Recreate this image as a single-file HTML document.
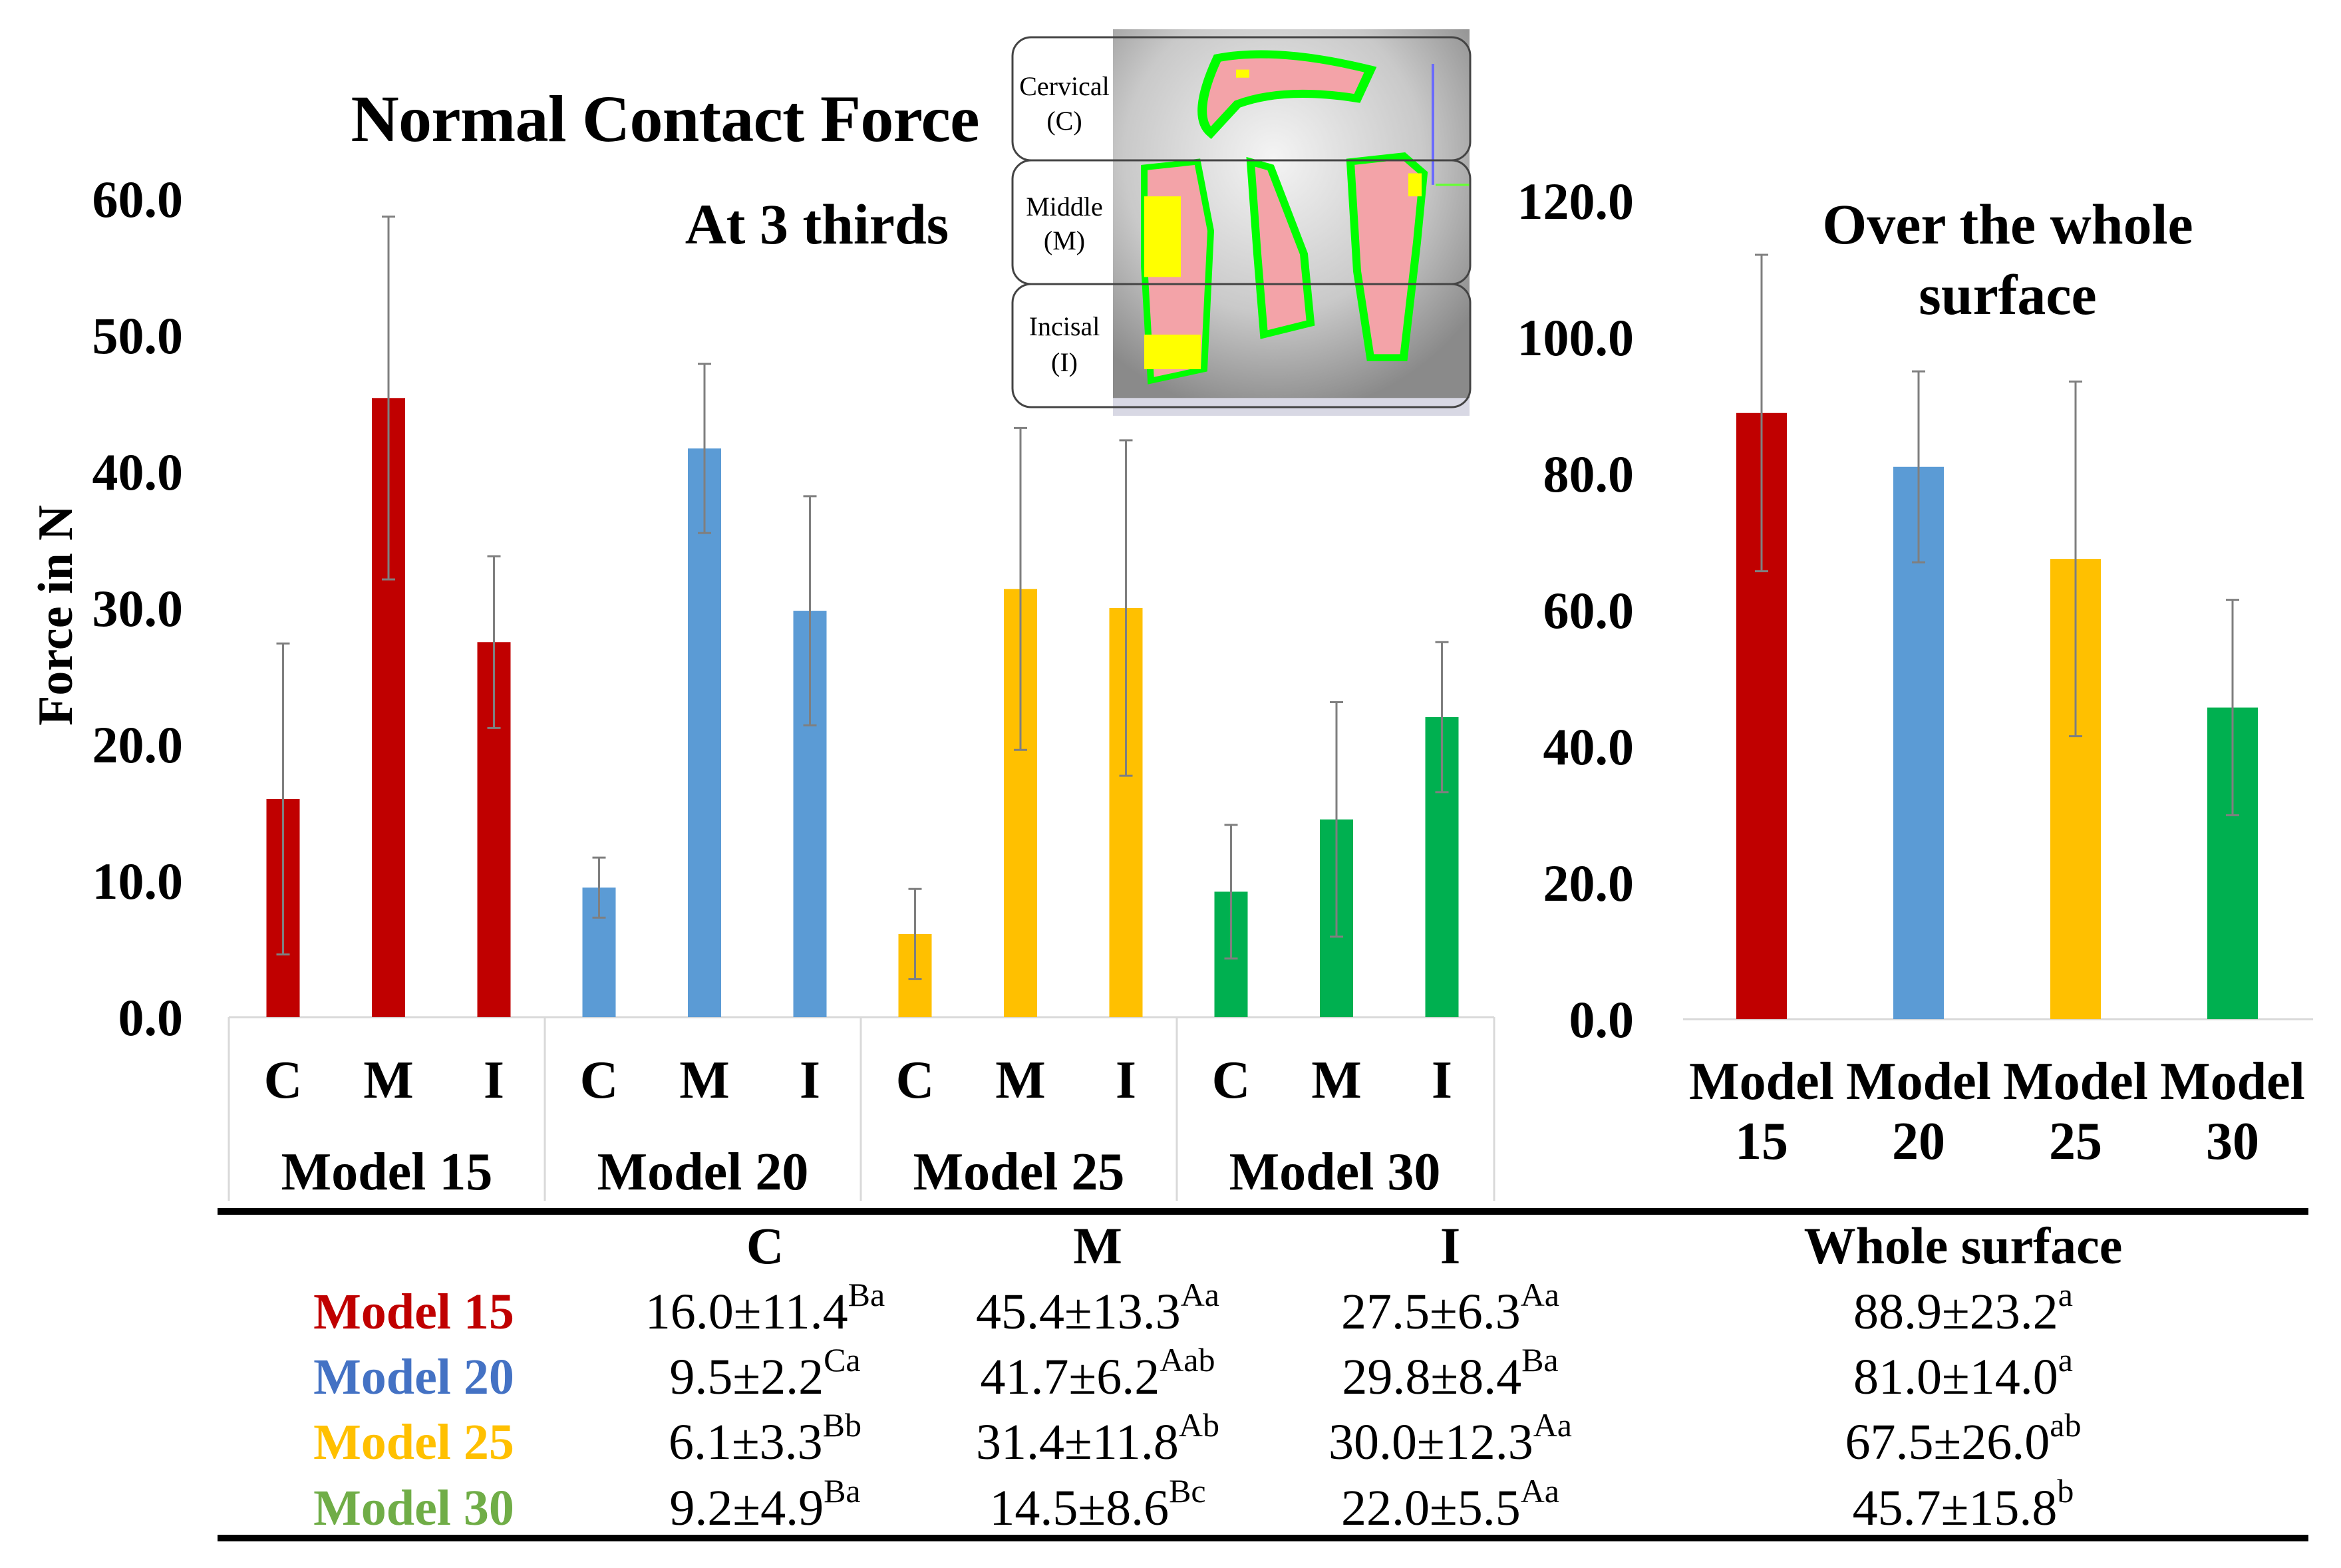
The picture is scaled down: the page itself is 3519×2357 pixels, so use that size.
<!DOCTYPE html>
<html><head><meta charset="utf-8">
<style>
html,body{margin:0;padding:0;background:#fff;}
svg{display:block;}
text{font-family:"Liberation Serif",serif;}
</style></head>
<body>
<svg id="chart" width="3519" height="2357" viewBox="0 0 3519 2357" xmlns="http://www.w3.org/2000/svg">
  <rect width="3519" height="2357" fill="#fff"/>
  <text x="1000" y="212" font-size="100" font-weight="bold" text-anchor="middle" textLength="945">Normal Contact Force</text>
  <text x="1228" y="366" font-size="86" font-weight="bold" text-anchor="middle">At 3 thirds</text>
  <text x="3018" y="366" font-size="86" font-weight="bold" text-anchor="middle">Over the whole</text>
  <text x="3018" y="472" font-size="86" font-weight="bold" text-anchor="middle">surface</text>
  <text transform="translate(108,925) rotate(-90)" font-size="74" font-weight="bold" text-anchor="middle">Force in N</text>

  <!-- inset tooth image -->
  <g>
    <defs>
      <radialGradient id="tg" cx="0.45" cy="0.35" r="0.7">
        <stop offset="0" stop-color="#f4f4f4"/><stop offset="0.6" stop-color="#c9c9c9"/><stop offset="1" stop-color="#8a8a8a"/>
      </radialGradient>
    </defs>
    <g transform="translate(0,44) scale(1,0.866) translate(0,-50)">
      <rect x="1673" y="50" width="536" height="671" fill="#d8d8e4"/>
      <rect x="1673" y="50" width="536" height="640" fill="url(#tg)"/>
      <path d="M1830 100 Q1920 80 2060 120 L2040 170 Q1930 150 1860 180 L1820 230 Q1790 200 1830 100Z" fill="#f3a3a8" stroke="#00ff00" stroke-width="14"/>
      <rect x="1858" y="120" width="20" height="14" fill="#ff0"/>
      <path d="M1720 290 L1800 280 L1820 400 L1810 640 L1730 660 L1720 460Z" fill="#f3a3a8" stroke="#00ff00" stroke-width="10"/>
      <rect x="1720" y="340" width="55" height="140" fill="#ff0"/>
      <rect x="1720" y="580" width="85" height="60" fill="#ff0"/>
      <path d="M1880 280 L1910 290 L1960 440 L1970 560 L1900 580 L1890 440Z" fill="#f3a3a8" stroke="#00ff00" stroke-width="12"/>
      <path d="M2030 280 L2110 270 L2140 300 L2130 420 L2110 620 L2060 620 L2040 470Z" fill="#f3a3a8" stroke="#00ff00" stroke-width="12"/>
      <rect x="2117" y="300" width="20" height="40" fill="#ff0"/>
      <line x1="2154" y1="110" x2="2154" y2="320" stroke="#6a6aff" stroke-width="4"/>
      <line x1="2158" y1="320" x2="2209" y2="320" stroke="#66ff33" stroke-width="4"/>
    </g>
    <g fill="none" stroke="#444" stroke-width="3">
      <rect x="1522" y="56" width="688" height="185" rx="28"/>
      <rect x="1522" y="241" width="688" height="186" rx="28"/>
      <rect x="1522" y="427" width="688" height="185" rx="28"/>
    </g>
    <rect x="1524" y="58" width="149" height="181" rx="26" fill="#fff"/>
    <rect x="1524" y="243" width="149" height="182" rx="26" fill="#fff"/>
    <rect x="1524" y="429" width="149" height="181" rx="26" fill="#fff"/>
    <text x="1600" y="143" font-size="40" text-anchor="middle">Cervical</text>
    <text x="1600" y="195" font-size="40" text-anchor="middle">(C)</text>
    <text x="1600" y="324" font-size="40" text-anchor="middle">Middle</text>
    <text x="1600" y="375" font-size="40" text-anchor="middle">(M)</text>
    <text x="1600" y="504" font-size="40" text-anchor="middle">Incisal</text>
    <text x="1600" y="558" font-size="40" text-anchor="middle">(I)</text>
  </g>

  <!-- category boxes -->
  <g stroke="#d9d9d9" stroke-width="3">
    <line x1="344" y1="1529" x2="2246" y2="1529"/>
    <line x1="344" y1="1529" x2="344" y2="1805"/>
    <line x1="819" y1="1529" x2="819" y2="1805"/>
    <line x1="1294" y1="1529" x2="1294" y2="1805"/>
    <line x1="1769" y1="1529" x2="1769" y2="1805"/>
    <line x1="2246" y1="1529" x2="2246" y2="1805"/>
    <line x1="2530" y1="1532" x2="3477" y2="1532"/>
  </g>
  <g id="left"></g>
  <g id="right"></g>

  <!-- table -->
  <g>
    <rect x="327" y="1816" width="3143" height="10" fill="#000"/>
    <rect x="327" y="2307" width="3143" height="10" fill="#000"/>
    <g font-size="78" font-weight="bold" text-anchor="middle">
      <text x="1150" y="1899">C</text>
      <text x="1650" y="1899">M</text>
      <text x="2180" y="1899">I</text>
      <text x="2951" y="1899">Whole surface</text>
    </g>
    <g id="tbl"></g>
  </g>
</svg>
<script>
const categories = ["C","M","I"];
const models = ["Model 15","Model 20","Model 25","Model 30"];
const colors = ["#c00000","#5b9bd5","#ffc000","#00b050"];
const labelColors = ["#c00000","#4472c4","#ffc000","#70ad47"];
const meanC = [16.0, 9.5, 6.1, 9.2];
const meanM = [45.4, 41.7, 31.4, 14.5];
const meanI = [27.5, 29.8, 30.0, 22.0];
const sdC = [11.4, 2.2, 3.3, 4.9];
const sdM = [13.3, 6.2, 11.8, 8.6];
const sdI = [6.3, 8.4, 12.3, 5.5];
const supC = ["Ba","Ca","Bb","Ba"];
const supM = ["Aa","Aab","Ab","Bc"];
const supI = ["Aa","Ba","Aa","Aa"];
const wholeMean = [88.9, 81.0, 67.5, 45.7];
const wholeSd = [23.2, 14.0, 26.0, 15.8];
const wholeSup = ["a","a","ab","b"];
const leftTicks = [0,10,20,30,40,50,60];
const rightTicks = [0,20,40,60,80,100,120];

const NS = "http://www.w3.org/2000/svg";
function mk(tag, attrs, parent, txt){
  const e = document.createElementNS(NS, tag);
  for (const k in attrs) e.setAttribute(k, attrs[k]);
  if (txt !== undefined) e.textContent = txt;
  parent.appendChild(e);
  return e;
}
const yL = v => 1529 - v * 20.5;
const yR = v => 1532 - v * 10.25;
const xL = (g, c) => 344 + g * 475 + 81.5 + c * 158.5;
const xR = i => 2648 + i * 236;

const left = document.getElementById('left');
const right = document.getElementById('right');

leftTicks.forEach(t => {
  const el = mk('text', {x: 275, y: yL(t) + 27, 'font-size': 78, 'font-weight': 'bold', 'text-anchor': 'end'}, left, t.toFixed(1));
  
  
});
rightTicks.forEach(t => {
  const el = mk('text', {x: 2456, y: yR(t) + 27, 'font-size': 78, 'font-weight': 'bold', 'text-anchor': 'end'}, right, t.toFixed(1));
  
  
});

function errbar(parent, x, y1, y2, cap){
  const g = mk('g', {stroke: '#7f7f7f', 'stroke-width': 3}, parent);
  
  
  mk('line', {x1: x, y1: y1, x2: x, y2: y2}, g);
  mk('line', {x1: x - cap, y1: y1, x2: x + cap, y2: y1}, g);
  mk('line', {x1: x - cap, y1: y2, x2: x + cap, y2: y2}, g);
}

const means = [meanC, meanM, meanI];
const sds = [sdC, sdM, sdI];
models.forEach((m, g) => {
  categories.forEach((c, ci) => {
    const v = means[ci][g], s = sds[ci][g];
    const cx = xL(g, ci);
    const r = mk('rect', {x: cx - 25, y: yL(v), width: 50, height: yL(0) - yL(v), fill: colors[g]}, left);
    
    
    errbar(left, cx, yL(v + s), yL(Math.max(v - s, 0)), 10);
    const t = mk('text', {x: cx, y: 1650, 'font-size': 80, 'font-weight': 'bold', 'text-anchor': 'middle'}, left, c);
    
    
  });
  const t = mk('text', {x: 344 + g * 475 + 237.5, y: 1788, 'font-size': 80, 'font-weight': 'bold', 'text-anchor': 'middle'}, left, m);
  
  
});

models.forEach((m, i) => {
  const cx = xR(i), v = wholeMean[i], s = wholeSd[i];
  const r = mk('rect', {x: cx - 38, y: yR(v), width: 76, height: yR(0) - yR(v), fill: colors[i]}, right);
  
  
  errbar(right, cx, yR(v + s), yR(v - s), 10);
  const parts = m.split(' ');
  const t1 = mk('text', {x: cx, y: 1652, 'font-size': 80, 'font-weight': 'bold', 'text-anchor': 'middle'}, right, parts[0]);
  
  
  const t2 = mk('text', {x: cx, y: 1742, 'font-size': 80, 'font-weight': 'bold', 'text-anchor': 'middle'}, right, parts[1]);
  
  
});

const tbl = document.getElementById('tbl');
const rowY = [1997, 2095, 2193, 2292];
const colX = [1150, 1650, 2180];
const sups = [supC, supM, supI];
models.forEach((m, r) => {
  const lab = mk('text', {x: 622, y: rowY[r], 'font-size': 76, 'font-weight': 'bold', 'text-anchor': 'middle', fill: labelColors[r]}, tbl, m);
  
  
  for (let c = 0; c < 3; c++) {
    const t = mk('text', {x: colX[c], y: rowY[r], 'font-size': 76, 'text-anchor': 'middle'}, tbl);
    
    
    mk('tspan', {}, t, means[c][r].toFixed(1) + '±' + sds[c][r].toFixed(1));
    mk('tspan', {'font-size': 50, dy: -34}, t, sups[c][r]);
  }
  const t = mk('text', {x: 2951, y: rowY[r], 'font-size': 76, 'text-anchor': 'middle'}, tbl);
  
  
  mk('tspan', {}, t, wholeMean[r].toFixed(1) + '±' + wholeSd[r].toFixed(1));
  mk('tspan', {'font-size': 50, dy: -34}, t, wholeSup[r]);
});
</script>
</body></html>
